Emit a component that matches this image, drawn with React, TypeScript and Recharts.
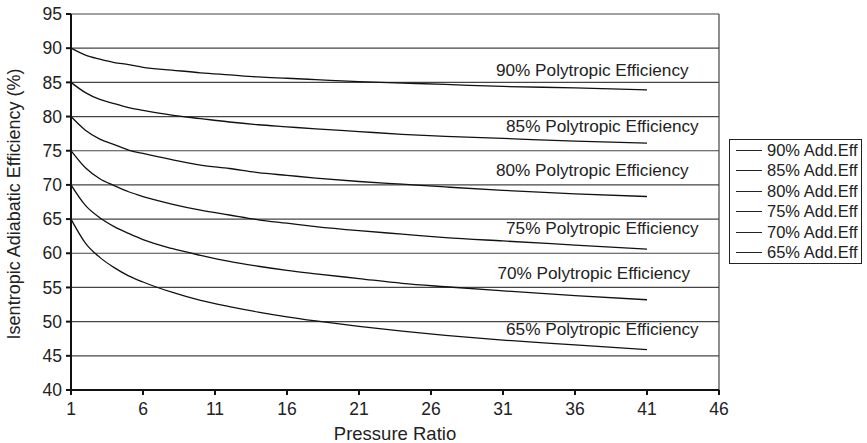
import { LineChart, Line, XAxis, YAxis, CartesianGrid, Legend, ReferenceLine, ReferenceDot } from 'recharts';

const pressureRatio = [1, 2, 3, 4, 5, 6, 8, 10, 12, 14, 16, 18, 21, 24, 27, 31, 36, 41];
const eff90 = [90, 89.0, 88.4, 87.9, 87.6, 87.2, 86.8, 86.4, 86.1, 85.8, 85.6, 85.4, 85.1, 84.9, 84.7, 84.4, 84.2, 83.9];
const eff85 = [85, 83.5, 82.5, 81.9, 81.3, 80.9, 80.2, 79.7, 79.2, 78.8, 78.5, 78.2, 77.8, 77.4, 77.1, 76.8, 76.4, 76.1];
const eff80 = [80, 78.0, 76.7, 75.9, 75.1, 74.6, 73.7, 72.9, 72.4, 71.8, 71.4, 71.0, 70.5, 70.1, 69.7, 69.2, 68.7, 68.3];
const eff75 = [75, 72.5, 70.9, 69.9, 69.0, 68.3, 67.2, 66.3, 65.6, 64.9, 64.4, 63.9, 63.3, 62.8, 62.3, 61.8, 61.2, 60.6];
const eff70 = [70, 67.0, 65.2, 63.9, 62.9, 62.0, 60.7, 59.7, 58.8, 58.1, 57.5, 57.0, 56.3, 55.6, 55.1, 54.5, 53.8, 53.2];
const eff65 = [65, 61.5, 59.4, 57.9, 56.7, 55.8, 54.3, 53.1, 52.2, 51.4, 50.7, 50.1, 49.3, 48.6, 48.0, 47.3, 46.6, 45.9];

const seriesKeys = ['e90', 'e85', 'e80', 'e75', 'e70', 'e65'];
const seriesNames = ['90% Add.Eff', '85% Add.Eff', '80% Add.Eff', '75% Add.Eff', '70% Add.Eff', '65% Add.Eff'];
const curveLabels = [
  '90% Polytropic Efficiency',
  '85% Polytropic Efficiency',
  '80% Polytropic Efficiency',
  '75% Polytropic Efficiency',
  '70% Polytropic Efficiency',
  '65% Polytropic Efficiency',
];
// where each curve's caption sits, in data units
const curveLabelX = [37.2, 37.9, 37.2, 37.9, 37.3, 37.9];
const curveLabelY = [86.8, 78.6, 72.2, 63.65, 57.15, 48.9];

const xTicks = [1, 6, 11, 16, 21, 26, 31, 36, 41, 46];
const yTicks = [40, 45, 50, 55, 60, 65, 70, 75, 80, 85, 90, 95];

const data = pressureRatio.map((pr, i) => ({
  pr,
  e90: eff90[i],
  e85: eff85[i],
  e80: eff80[i],
  e75: eff75[i],
  e70: eff70[i],
  e65: eff65[i],
}));

const font = '"Liberation Sans", Arial, Helvetica, sans-serif';
const ink = '#222';

const LegendBox = ({ payload }: any) => {
  const items = [...(payload || [])].sort((a: any, b: any) => seriesNames.indexOf(a.value) - seriesNames.indexOf(b.value));
  return (
    <div style={{ border: `1px solid ${ink}`, background: '#fff', width: 133, boxSizing: 'border-box', fontFamily: font, fontSize: 16.5, color: ink }}>
      {items.map((p: any) => (
        <div key={p.value} style={{ display: 'flex', alignItems: 'center', height: 20.5, paddingLeft: 6, whiteSpace: 'nowrap' }}>
          <span style={{ display: 'inline-block', width: 26, borderTop: `1px solid ${ink}`, marginRight: 5 }} />
          <span>{p.value}</span>
        </div>
      ))}
    </div>
  );
};

export default function App() {
  return (
    <div style={{ width: 867, height: 443, background: '#fff' }}>
      <style>{`body{margin:0}`}</style>
      <LineChart width={867} height={443} data={data} margin={{ top: 14, right: 148, bottom: 0, left: 0 }}>
        <CartesianGrid vertical={false} stroke="#444" strokeWidth={1.2} />
        <XAxis
          dataKey="pr"
          type="number"
          domain={[1, 46]}
          ticks={xTicks}
          height={53}
          tickSize={5}
          tickMargin={8}
          stroke="#111"
          strokeWidth={2}
          tick={{ fill: ink, fontSize: 17.5, fontFamily: font }}
          label={{ value: 'Pressure Ratio', position: 'insideBottom', offset: 3, fill: ink, fontSize: 18.5, fontFamily: font }}
        />
        <YAxis
          type="number"
          domain={[40, 95]}
          ticks={yTicks}
          width={71}
          tickSize={5}
          tickMargin={4}
          stroke="#111"
          strokeWidth={2}
          tick={{ fill: ink, fontSize: 17.5, fontFamily: font }}
          label={{ value: 'Isentropic Adiabatic Efficiency (%)', angle: -90, position: 'insideLeft', offset: 14, dy: 2, fill: ink, fontSize: 18, fontFamily: font, style: { textAnchor: 'middle' } }}
        />
        <ReferenceLine x={46} stroke="#444" strokeWidth={1.2} />
        <Legend
          layout="vertical"
          align="center"
          verticalAlign="middle"
          itemSorter={null}
          content={<LegendBox />}
          wrapperStyle={{ left: 729, top: 139, width: 133 }}
        />
        {seriesKeys.map((k, i) => (
          <Line
            key={k}
            dataKey={k}
            name={seriesNames[i]}
            type="monotone"
            stroke="#111"
            strokeWidth={1.3}
            dot={false}
            isAnimationActive={false}
          />
        ))}
        {curveLabels.map((t, i) => (
          <ReferenceDot
            key={t}
            x={curveLabelX[i]}
            y={curveLabelY[i]}
            r={0}
            fill="none"
            stroke="none"
            label={{ value: t, position: 'center', fill: ink, fontSize: 17.2, fontFamily: font }}
          />
        ))}
      </LineChart>
    </div>
  );
}
